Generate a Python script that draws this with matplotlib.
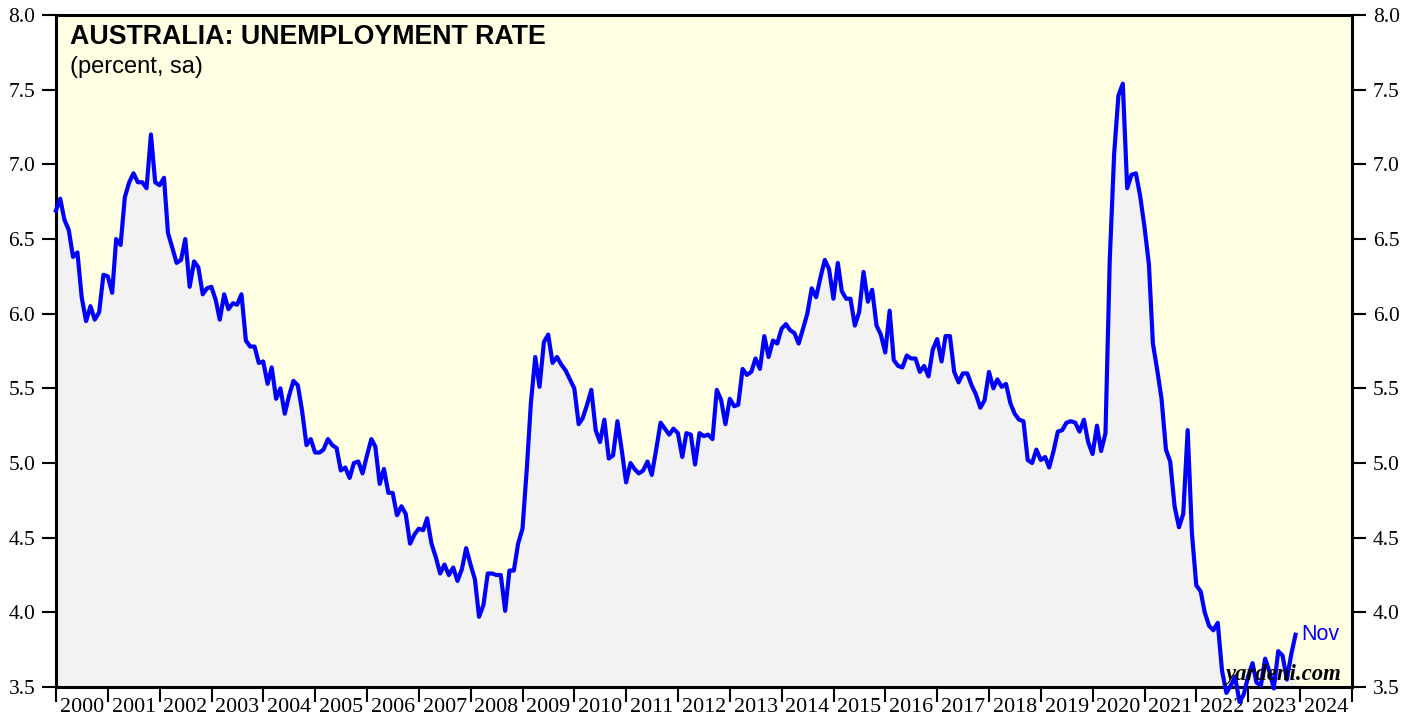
import numpy as np
import pandas as pd
import matplotlib
matplotlib.use("Agg")
import matplotlib.pyplot as plt
import matplotlib.dates as mdates
from matplotlib.ticker import FormatStrFormatter

# monthly unemployment rate (percent, sa), Dec 1999 .. Nov 2023
start_month = "1999-12-31"
rate = [
    6.69, 6.77, 6.63, 6.56, 6.38, 6.41, 6.11, 5.95, 6.05, 5.96,
    6.01, 6.26, 6.25, 6.14, 6.50, 6.46, 6.78, 6.88, 6.94, 6.88,
    6.88, 6.84, 7.20, 6.88, 6.86, 6.91, 6.54, 6.44, 6.34, 6.36,
    6.50, 6.18, 6.35, 6.31, 6.13, 6.17, 6.18, 6.09, 5.96, 6.13,
    6.03, 6.07, 6.06, 6.13, 5.82, 5.78, 5.78, 5.67, 5.68, 5.53,
    5.64, 5.43, 5.50, 5.33, 5.45, 5.55, 5.52, 5.35, 5.12, 5.16,
    5.07, 5.07, 5.09, 5.16, 5.12, 5.10, 4.95, 4.97, 4.90, 5.00,
    5.01, 4.93, 5.05, 5.16, 5.11, 4.86, 4.96, 4.80, 4.80, 4.65,
    4.71, 4.66, 4.46, 4.52, 4.56, 4.55, 4.63, 4.46, 4.37, 4.26,
    4.32, 4.25, 4.30, 4.21, 4.29, 4.43, 4.32, 4.22, 3.97, 4.05,
    4.26, 4.26, 4.25, 4.25, 4.01, 4.28, 4.28, 4.46, 4.56, 4.97,
    5.40, 5.71, 5.51, 5.81, 5.86, 5.67, 5.71, 5.66, 5.62, 5.56,
    5.50, 5.26, 5.30, 5.39, 5.49, 5.22, 5.14, 5.29, 5.03, 5.05,
    5.28, 5.09, 4.87, 5.00, 4.96, 4.93, 4.95, 5.01, 4.92, 5.09,
    5.27, 5.23, 5.19, 5.23, 5.20, 5.04, 5.20, 5.19, 4.99, 5.20,
    5.18, 5.19, 5.16, 5.49, 5.42, 5.26, 5.43, 5.38, 5.39, 5.63,
    5.59, 5.61, 5.70, 5.63, 5.85, 5.71, 5.82, 5.80, 5.90, 5.93,
    5.89, 5.87, 5.80, 5.90, 6.00, 6.17, 6.11, 6.24, 6.36, 6.30,
    6.10, 6.34, 6.15, 6.10, 6.10, 5.92, 6.01, 6.28, 6.08, 6.16,
    5.92, 5.86, 5.74, 6.02, 5.69, 5.65, 5.64, 5.72, 5.70, 5.70,
    5.61, 5.65, 5.58, 5.76, 5.83, 5.68, 5.85, 5.85, 5.61, 5.54,
    5.60, 5.60, 5.52, 5.46, 5.37, 5.42, 5.61, 5.50, 5.56, 5.51,
    5.53, 5.40, 5.33, 5.29, 5.28, 5.02, 5.00, 5.09, 5.02, 5.04,
    4.97, 5.08, 5.21, 5.22, 5.27, 5.28, 5.27, 5.21, 5.29, 5.14,
    5.06, 5.25, 5.08, 5.20, 6.36, 7.07, 7.46, 7.54, 6.84, 6.93,
    6.94, 6.79, 6.58, 6.33, 5.80, 5.62, 5.43, 5.09, 5.01, 4.71,
    4.57, 4.66, 5.22, 4.53, 4.18, 4.14, 4.00, 3.91, 3.88, 3.93,
    3.61, 3.46, 3.51, 3.57, 3.40, 3.45, 3.57, 3.66, 3.53, 3.51,
    3.69, 3.60, 3.49, 3.74, 3.71, 3.55, 3.72, 3.85,
]
y_ticks = [3.5, 4.0, 4.5, 5.0, 5.5, 6.0, 6.5, 7.0, 7.5, 8.0]

dates = pd.date_range(start_month, periods=len(rate), freq="ME")

W, H = 1419, 721
fig = plt.figure(figsize=(W / 100, H / 100), dpi=100)
ax = fig.add_axes([56 / W, 1 - 687 / H, (1352 - 56) / W, (687 - 15) / H])

ax.set_facecolor("#FFFFE3")
ax.fill_between(dates, rate, 3.5, color="#F2F2F2", lw=0)
ax.plot(dates, rate, color="#0000FF", lw=3.0, clip_on=False, zorder=3)

ax.set_xlim(pd.Timestamp("2000-01-01"), pd.Timestamp("2025-01-01"))
ax.set_ylim(3.5, 8.0)

# year boundaries as ticks, year names centred in between
ax.xaxis.set_major_locator(mdates.YearLocator())
ax.xaxis.set_major_formatter(plt.NullFormatter())
ax.xaxis.set_minor_locator(mdates.MonthLocator(bymonth=7, bymonthday=1))
ax.xaxis.set_minor_formatter(mdates.DateFormatter("%Y"))
ax.tick_params(axis="x", which="major", direction="out", length=11, width=1.5)
ax.tick_params(axis="x", which="minor", length=0, pad=8, labelsize=15.8)

ax.set_yticks(y_ticks)
ax.yaxis.set_major_formatter(FormatStrFormatter("%.1f"))
ax.tick_params(axis="y", which="major", direction="out", length=10, width=1.5,
               pad=5, labelsize=15.5, left=True, right=True,
               labelleft=True, labelright=True)

for lab in ax.get_xticklabels(minor=True) + ax.get_yticklabels():
    lab.set_fontfamily("Liberation Serif")
for t in ax.yaxis.get_major_ticks():
    t.label2.set_fontfamily("Liberation Serif")

for s in ax.spines.values():
    s.set_linewidth(2.2)
    s.set_color("black")

fig.text(70 / W, 1 - 44 / H, "AUSTRALIA: UNEMPLOYMENT RATE", fontsize=19.3,
         fontweight="bold", family="Liberation Sans", va="baseline")
fig.text(70 / W, 1 - 73 / H, "(percent, sa)", fontsize=17,
         family="Liberation Sans", va="baseline")

ax.annotate("Nov", xy=(dates[-1], rate[-1]), xytext=(4, 0),
            textcoords="offset points", color="#0000FF", fontsize=15.5,
            family="Liberation Sans", va="center", ha="left")

fig.text(1341 / W, 1 - 680 / H, "yardeni.com", fontsize=16.4,
         family="Liberation Serif", fontweight="bold", fontstyle="italic",
         ha="right", va="baseline", zorder=5)

fig.savefig("out.png", dpi=100)
